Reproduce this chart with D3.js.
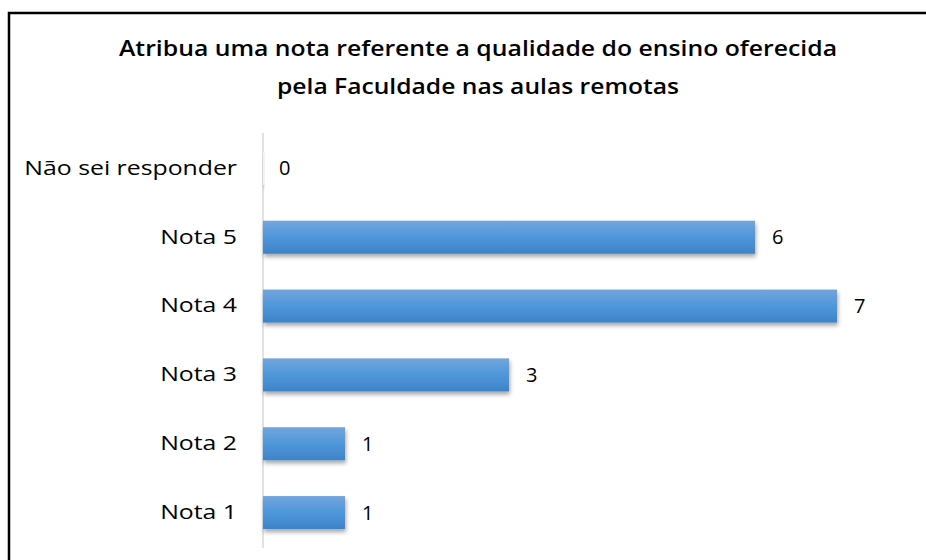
<!DOCTYPE html>
<html><head><meta charset="utf-8">
<script src="https://cdn.jsdelivr.net/npm/d3@7"></script>
<style>body{margin:0;background:#fff;} svg{display:block;}</style>
</head><body>
<svg id="c" width="926" height="560"></svg>
<script>
const categories = ["Não sei responder","Nota 5","Nota 4","Nota 3","Nota 2","Nota 1"];
const values = [0,6,7,3,1,1];
const titleLines = ["Atribua uma nota referente a qualidade do ensino oferecida","pela Faculdade nas aulas remotas"];

const svg = d3.select("#c");
const defs = svg.append("defs");
const g1 = defs.append("linearGradient").attr("id","bg").attr("x1",0).attr("y1",0).attr("x2",0).attr("y2",1);
g1.append("stop").attr("offset","0%").attr("stop-color","#72a6dc");
g1.append("stop").attr("offset","50%").attr("stop-color","#4e97da");
g1.append("stop").attr("offset","100%").attr("stop-color","#3f82c8");
const f = defs.append("filter").attr("id","sh").attr("x","-10%").attr("y","-30%").attr("width","120%").attr("height","180%");
f.append("feDropShadow").attr("dx",1).attr("dy",3).attr("stdDeviation",2).attr("flood-color","#000").attr("flood-opacity",0.35);

// frame
svg.append("path").attr("d","M9,560 L9,13 L926,13").attr("fill","none").attr("stroke","#000").attr("stroke-width",2.5);

const x0 = 263;
const x = d3.scaleLinear().domain([0,1]).range([x0,x0+82]);
const y = d3.scaleBand().domain(categories).range([134,547]).paddingInner(0.52).paddingOuter(0.26);

const titleW = [718, 402];
svg.append("g").selectAll("text").data(titleLines).join("text")
  .attr("x",478).attr("y",(d,i)=>56+i*38).attr("text-anchor","middle")
  .attr("font-family","'Open Sans',sans-serif").attr("font-weight","600").attr("font-size",21).attr("fill","#000")
  .attr("textLength",(d,i)=>titleW[i]).attr("lengthAdjust","spacingAndGlyphs")
  .text(d=>d);

svg.append("line").attr("x1",x0).attr("x2",x0).attr("y1",133).attr("y2",548).attr("stroke","#d9d9d9").attr("stroke-width",1.5);

svg.append("g").selectAll("rect").data(values).join("rect")
  .attr("x",x(0)).attr("y",(d,i)=>y(categories[i])).attr("height",y.bandwidth())
  .attr("width",d=>Math.max(x(d)-x(0),d===0?1.5:0)).attr("fill",d=>d===0?"#f2f2f2":"url(#bg)").attr("filter","url(#sh)");

const ax = d3.axisLeft(y).tickSize(0).tickPadding(26);
const ag = svg.append("g").attr("transform",`translate(${x0},0)`).call(ax);
ag.select(".domain").remove();
ag.selectAll("text").attr("font-family","'Open Sans',sans-serif").attr("font-size",20).attr("fill","#000")
  .each(function(){ const w=this.getComputedTextLength(); d3.select(this).attr("textLength",w*1.24).attr("lengthAdjust","spacingAndGlyphs"); });

svg.append("g").selectAll("text").data(values).join("text")
  .attr("x",d=>x(d)+(d===0?16:17)).attr("y",(d,i)=>y(categories[i])+y.bandwidth()/2).attr("dy","0.35em")
  .attr("font-family","'Open Sans',sans-serif").attr("font-size",20).attr("fill","#000")
  .text(d=>d);
</script>
</body></html>
